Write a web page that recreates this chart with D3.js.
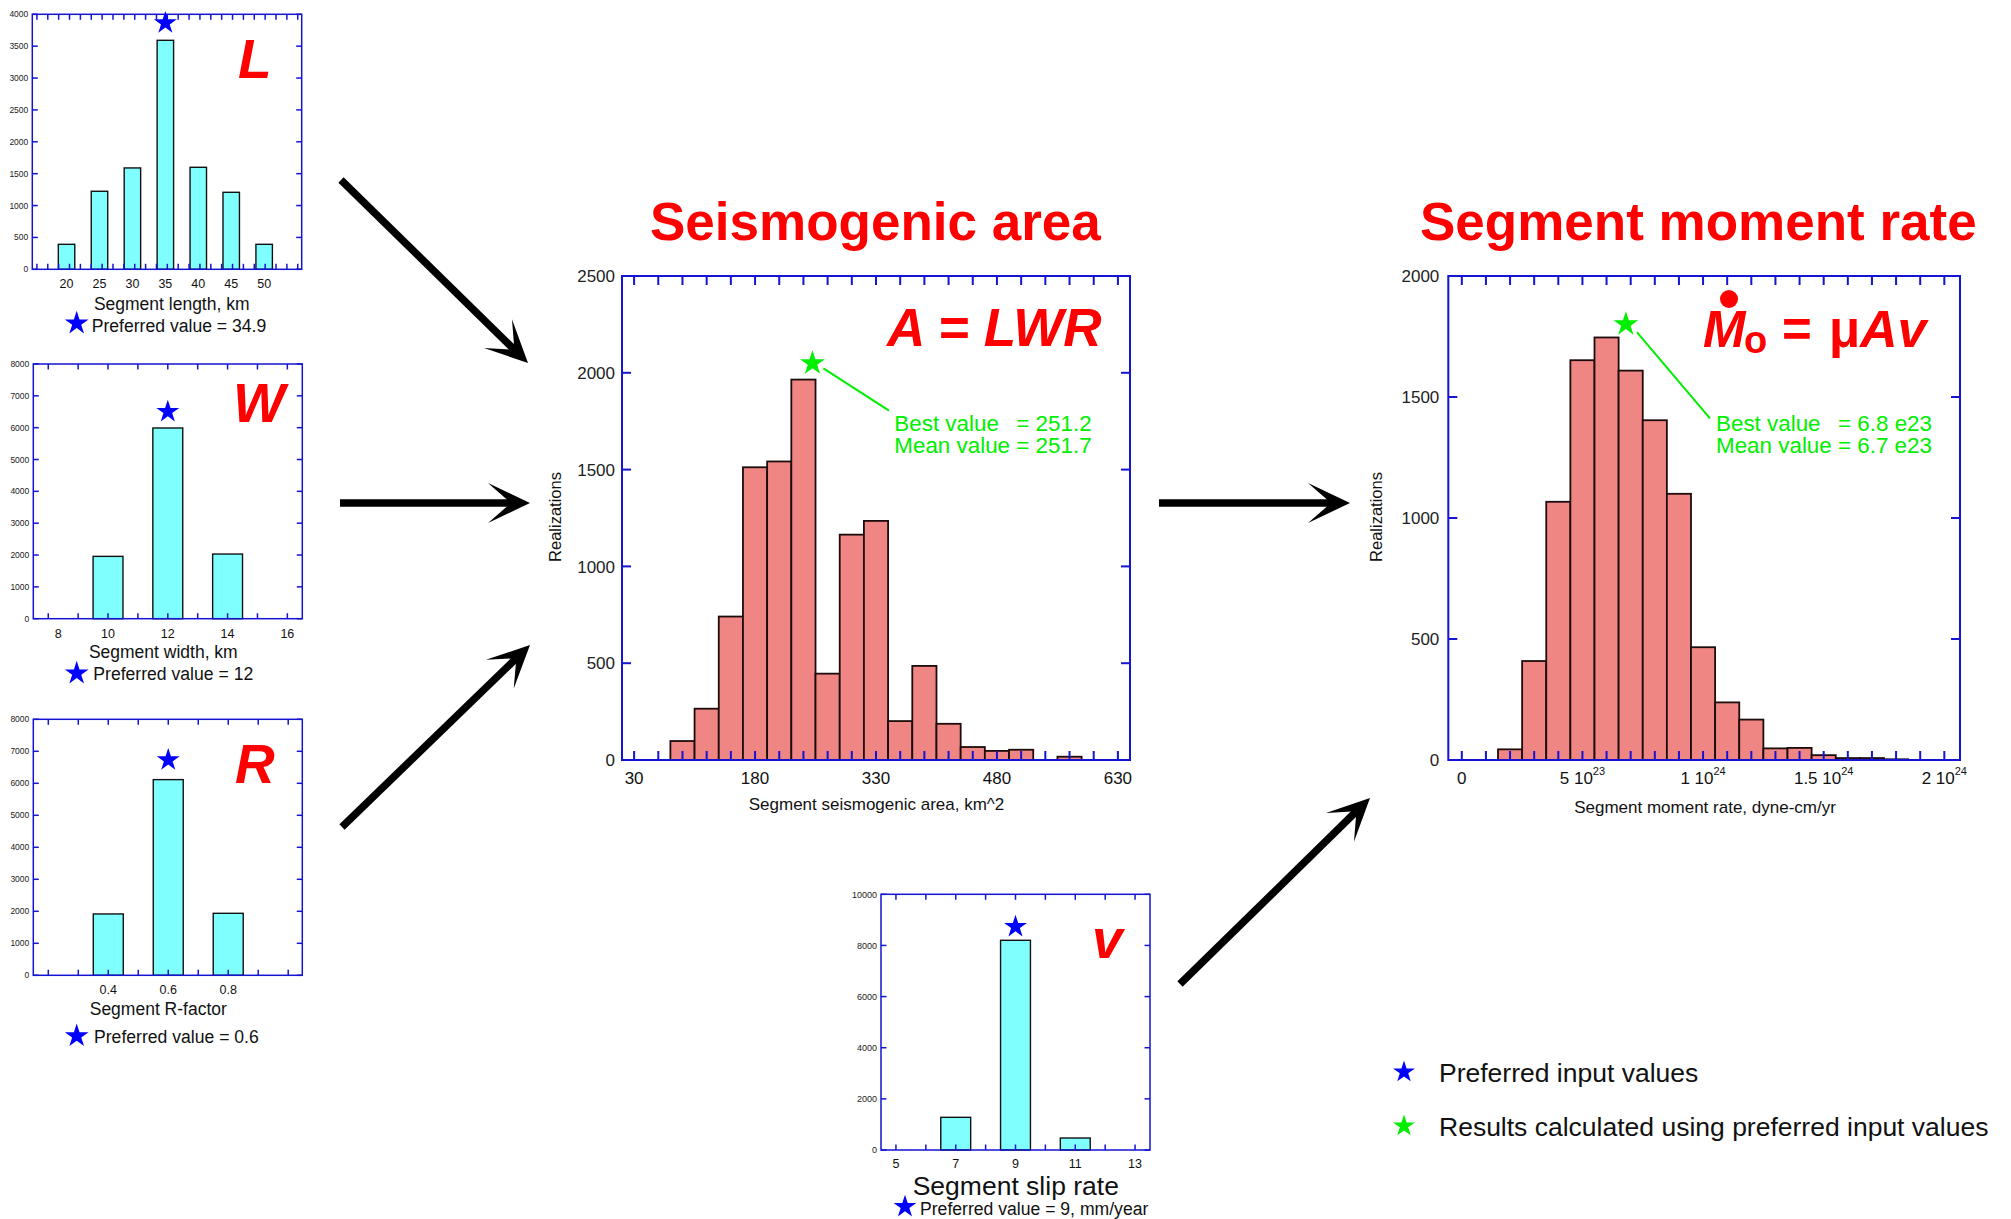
<!DOCTYPE html>
<html>
<head>
<meta charset="utf-8">
<script src="https://cdn.jsdelivr.net/npm/d3@7"></script>
<style>
  body { margin: 0; background: #fff; }
  svg { display: block; font-family: "Liberation Sans", Arial, Helvetica, sans-serif; }
</style>
</head>
<body>
<svg id="fig" width="2011" height="1219"></svg>
<script>
// ---- input distributions: realizations for each sampled value ----
const lengthValues = [20, 25, 30, 35, 40, 45, 50];
const lengthCounts = [392, 1224, 1590, 3592, 1600, 1208, 392];
const widthValues = [10, 12, 14];
const widthCounts = [1958, 5990, 2031];
const widthTickLabels = [8, 10, 12, 14, 16];
const rValues = [0.4, 0.6, 0.8];
const rCounts = [1917, 6115, 1937];
const slipValues = [7, 9, 11];
const slipCounts = [1278, 8201, 469];
const slipTickLabels = [5, 7, 9, 11, 13];

// preferred input values
const prefLength = 34.9;
const prefWidth = 12;
const prefR = 0.6;
const prefSlip = 9;

// ---- results: seismogenic area histogram (km^2) ----
const areaEdges = [75, 105, 135, 165, 195, 225, 255, 285, 315, 345, 375, 405, 435, 465, 495, 525, 555, 585];
const areaCounts = [98, 265, 741, 1512, 1542, 1965, 446, 1164, 1235, 201, 486, 187, 67, 47, 53, 0, 17];
const areaTickLabels = [30, 180, 330, 480, 630];
const areaBest = 251.2;
const areaMean = 251.7;

// ---- results: segment moment rate histogram (dyne-cm/yr) ----
const momentEdges = [1.5e23, 2.5e23, 3.5e23, 4.5e23, 5.5e23, 6.5e23, 7.5e23, 8.5e23, 9.5e23,
  10.5e23, 11.5e23, 12.5e23, 13.5e23, 14.5e23, 15.5e23, 16.5e23, 17.5e23, 18.5e23];
const momentCounts = [44, 409, 1067, 1652, 1746, 1609, 1404, 1100, 466, 238, 167, 48, 50, 20, 8, 8, 3];
const momentTickValues = [0, 5e23, 1e24, 1.5e24, 2e24];
const momentTickText = ['0', '5 10', '1 10', '1.5 10', '2 10'];
const momentTickExp = ['', '23', '24', '24', '24'];
const momentBest = 6.8e23;
const momentMean = 6.7e23;

const BLUE = '#1414d2';
const RED = '#ff0000';
const GREEN = '#00ee00';
const svg = d3.select('#fig');

svg.append('rect').attr('width', 2011).attr('height', 1219).attr('fill', '#fff');

function starPath(r) {
  const pts = [];
  for (let i = 0; i < 10; i++) {
    const a = -Math.PI / 2 + i * Math.PI / 5;
    const rr = i % 2 ? r * 0.382 : r;
    pts.push([rr * Math.cos(a), rr * Math.sin(a)]);
  }
  return 'M' + pts.map(p => p.join(',')).join('L') + 'Z';
}

function star(x, y, r, color) {
  svg.append('path')
    .attr('d', starPath(r))
    .attr('transform', `translate(${x},${y})`)
    .attr('fill', color);
}

function drawPanel(o) {
  const x = d3.scaleLinear().domain(o.xDomain).range([o.left, o.right]);
  const y = d3.scaleLinear().domain([0, o.yMax]).range([o.bottom, o.top]);
  const g = svg.append('g');

  // bars
  if (o.values) {
    g.selectAll('none')
      .data(o.values)
      .enter()
      .append('rect')
      .attr('x', d => x(d - o.barWidth / 2))
      .attr('width', d => x(d + o.barWidth / 2) - x(d - o.barWidth / 2))
      .attr('y', (d, i) => y(o.counts[i]))
      .attr('height', (d, i) => y(0) - y(o.counts[i]))
      .attr('fill', '#80ffff')
      .attr('stroke', '#111')
      .attr('stroke-width', 1.4);
  } else {
    const bins = o.counts.map((c, i) => ({ x0: o.edges[i], x1: o.edges[i + 1], c })).filter(b => b.c > 0);
    g.selectAll('none')
      .data(bins)
      .enter()
      .append('rect')
      .attr('x', d => x(d.x0))
      .attr('width', d => x(d.x1) - x(d.x0))
      .attr('y', d => y(d.c))
      .attr('height', d => y(0) - y(d.c))
      .attr('fill', '#f08684')
      .attr('stroke', '#1c0c0c')
      .attr('stroke-width', 1.8);
  }

  // ticks
  const yTicks = d3.range(0, o.yMax + o.yStep / 2, o.yStep);
  const tl = o.tickLen;
  const ticks = g.append('g').attr('stroke', BLUE).attr('stroke-width', o.frameW);
  yTicks.forEach(v => {
    ticks.append('line').attr('x1', o.left).attr('x2', o.left + tl).attr('y1', y(v)).attr('y2', y(v));
    ticks.append('line').attr('x1', o.right).attr('x2', o.right - tl).attr('y1', y(v)).attr('y2', y(v));
  });
  o.xTicks.forEach(v => {
    ticks.append('line').attr('x1', x(v)).attr('x2', x(v)).attr('y1', o.top).attr('y2', o.top + tl);
    ticks.append('line').attr('x1', x(v)).attr('x2', x(v)).attr('y1', o.bottom).attr('y2', o.bottom - tl);
  });

  // frame
  g.append('rect')
    .attr('x', o.left).attr('y', o.top)
    .attr('width', o.right - o.left).attr('height', o.bottom - o.top)
    .attr('fill', 'none').attr('stroke', BLUE).attr('stroke-width', o.frameW);

  // y labels
  g.selectAll('none')
    .data(yTicks)
    .enter()
    .append('text')
    .attr('x', o.left - o.yGap)
    .attr('y', d => y(d))
    .attr('dy', '0.36em')
    .attr('text-anchor', 'end')
    .attr('font-size', o.yFont)
    .attr('fill', '#222')
    .text(d => d);

  // x labels
  o.xLabels.forEach((v, i) => {
    const t = g.append('text')
      .attr('x', x(v) + (o.xLabelShift ? o.xLabelShift[i] : 0))
      .attr('y', o.xLabelY)
      .attr('text-anchor', 'middle')
      .attr('font-size', o.xFont)
      .attr('fill', '#111');
    if (o.xLabelText) {
      t.append('tspan').text(o.xLabelText[i]);
      if (o.xLabelExp[i]) {
        t.append('tspan').attr('dy', -9).attr('font-size', 11).text(o.xLabelExp[i]);
      }
    } else {
      t.text(v);
    }
  });

  return { x, y };
}

function label(x, y, txt, size, opts = {}) {
  return svg.append('text')
    .attr('x', x).attr('y', y)
    .attr('font-size', size)
    .attr('text-anchor', opts.anchor || 'start')
    .attr('font-weight', opts.bold ? 'bold' : null)
    .attr('font-style', opts.italic ? 'italic' : null)
    .attr('fill', opts.color || '#111')
    .text(txt);
}

// two green lines, with the "=" of the best value lined up under the mean value one
function resultText(x, y, best, mean, size) {
  const meanLine = label(x, y + 22, `Mean value = ${mean}`, size, { color: GREEN });
  const probe = label(x, y + 22, 'Mean value', size, { color: GREEN });
  const eqX = x + probe.node().getComputedTextLength() + size * 0.278;
  probe.remove();
  label(x, y, 'Best value', size, { color: GREEN });
  label(eqX, y, `= ${best}`, size, { color: GREEN });
  return meanLine;
}

const e23 = v => `${(v / 1e23).toFixed(1)} e23`;

// ---- L panel ----
const pL = drawPanel({
  left: 32.3, right: 301.7, top: 14.3, bottom: 269.3,
  xDomain: [14.8, 55.7], yMax: 4000, yStep: 500,
  xTicks: d3.range(15.5, 55.6, 1.65), xLabels: lengthValues,
  values: lengthValues, counts: lengthCounts, barWidth: 2.5,
  tickLen: 5.5, frameW: 1.5, yFont: 8.5, yGap: 4, xFont: 12.5, xLabelY: 288
});
star(pL.x(35), pL.y(3864), 12, '#0000ff');
label(238, 78, 'L', 55, { bold: true, italic: true, color: RED });
label(171.7, 310, 'Segment length, km', 17.5, { anchor: 'middle' });
star(76.7, 323.3, 12.5, '#0000ff');
label(91.7, 331.7, `Preferred value = ${prefLength}`, 17.6);

// ---- W panel ----
const pW = drawPanel({
  left: 33.3, right: 302.3, top: 364, bottom: 618.7,
  xDomain: [7.5, 16.5], yMax: 8000, yStep: 1000,
  xTicks: d3.range(8, 16.01, 1), xLabels: widthTickLabels, xLabelShift: [10, 0, 0, 0, 0],
  values: widthValues, counts: widthCounts, barWidth: 1,
  tickLen: 5.5, frameW: 1.5, yFont: 8.5, yGap: 4, xFont: 12.5, xLabelY: 638.3
});
star(pW.x(prefWidth), pW.y(6502), 12, '#0000ff');
label(233, 421.7, 'W', 55, { bold: true, italic: true, color: RED });
label(163.3, 658.3, 'Segment width, km', 17.5, { anchor: 'middle' });
star(76.7, 673.3, 12.5, '#0000ff');
label(93.3, 680, `Preferred value = ${prefWidth}`, 17.6);

// ---- R panel ----
const pR = drawPanel({
  left: 33.3, right: 302.3, top: 719.3, bottom: 975.3,
  xDomain: [0.15, 1.047], yMax: 8000, yStep: 1000,
  xTicks: d3.range(0.2, 1.001, 0.1), xLabels: rValues,
  values: rValues, counts: rCounts, barWidth: 0.1,
  tickLen: 5.5, frameW: 1.5, yFont: 8.5, yGap: 4, xFont: 12.5, xLabelY: 994
});
star(pR.x(prefR), pR.y(6728), 12, '#0000ff');
label(235, 783, 'R', 55, { bold: true, italic: true, color: RED });
label(158.3, 1015, 'Segment R-factor', 17.5, { anchor: 'middle' });
star(76.7, 1036, 12.5, '#0000ff');
label(94, 1043.3, `Preferred value = ${prefR}`, 17.6);

// ---- v panel ----
const pV = drawPanel({
  left: 881, right: 1150, top: 894.3, bottom: 1150,
  xDomain: [4.5, 13.5], yMax: 10000, yStep: 2000,
  xTicks: d3.range(5, 13.01, 1), xLabels: slipTickLabels,
  values: slipValues, counts: slipCounts, barWidth: 1,
  tickLen: 5.5, frameW: 1.5, yFont: 9, yGap: 4, xFont: 12.5, xLabelY: 1168.3
});
star(pV.x(prefSlip), pV.y(8733), 12, '#0000ff');
label(1092, 958, 'v', 55, { bold: true, italic: true, color: RED });
label(1015.8, 1195, 'Segment slip rate', 26.5, { anchor: 'middle' });
star(905, 1206.7, 12, '#0000ff');
label(920, 1215, `Preferred value = ${prefSlip}, mm/year`, 17.6);

// ---- seismogenic area ----
const pA = drawPanel({
  left: 622, right: 1130, top: 276, bottom: 760,
  xDomain: [15, 645], yMax: 2500, yStep: 500,
  xTicks: d3.range(30, 631, 30), xLabels: areaTickLabels,
  edges: areaEdges, counts: areaCounts,
  tickLen: 9, frameW: 2, yFont: 17, yGap: 7, xFont: 17, xLabelY: 784
});
label(650, 240, 'Seismogenic area', 53, { bold: true, color: RED });
label(887, 346, 'A = LWR', 53, { bold: true, italic: true, color: RED });
label(0, 0, 'Realizations', 16.5, { anchor: 'middle' })
  .attr('transform', 'translate(561,517) rotate(-90)');
label(876.5, 810, 'Segment seismogenic area, km^2', 17, { anchor: 'middle' });
svg.append('line')
  .attr('x1', pA.x(areaBest) + 11).attr('y1', pA.y(2049) + 5)
  .attr('x2', 889).attr('y2', 410.7)
  .attr('stroke', GREEN).attr('stroke-width', 2);
star(pA.x(areaBest), pA.y(2049), 13, GREEN);
resultText(894.3, 431, areaBest, areaMean, 22.4);

// ---- segment moment rate ----
const pM = drawPanel({
  left: 1448.3, right: 1960, top: 276, bottom: 760,
  xDomain: [-0.056e24, 2.065e24], yMax: 2000, yStep: 500,
  xTicks: d3.range(0, 20.01, 1).map(k => k * 1e23), xLabels: momentTickValues,
  xLabelText: momentTickText, xLabelExp: momentTickExp,
  edges: momentEdges, counts: momentCounts,
  tickLen: 9, frameW: 2, yFont: 17, yGap: 9, xFont: 17, xLabelY: 784
});
label(1420, 240, 'Segment moment rate', 53, { bold: true, color: RED });
label(0, 0, 'Realizations', 16.5, { anchor: 'middle' })
  .attr('transform', 'translate(1382,517) rotate(-90)');
label(1705, 812.7, 'Segment moment rate, dyne-cm/yr', 17, { anchor: 'middle' });
svg.append('line')
  .attr('x1', pM.x(momentBest) + 11).attr('y1', pM.y(1801) + 8)
  .attr('x2', 1710).attr('y2', 418.3)
  .attr('stroke', GREEN).attr('stroke-width', 2);
star(pM.x(momentBest), pM.y(1801), 13, GREEN);
resultText(1716, 431, e23(momentBest), e23(momentMean), 22.4);

// formula: M-dot_o = mu A v
label(1703, 347, 'M', 51, { bold: true, italic: true, color: RED });
label(1744, 353, 'o', 38, { bold: true, color: RED });
label(1782, 347, '=', 51, { bold: true, color: RED });
label(1829, 347, 'μ', 51, { bold: true, color: RED });
label(1860, 347, 'Av', 52, { bold: true, italic: true, color: RED });
svg.append('circle').attr('cx', 1729).attr('cy', 299).attr('r', 9).attr('fill', RED);

// ---- arrows ----
function arrow(x1, y1, x2, y2) {
  const a = Math.atan2(y2 - y1, x2 - x1);
  const L = 42, W = 20, N = 19;
  const nx = x2 - N * Math.cos(a), ny = y2 - N * Math.sin(a);
  svg.append('line')
    .attr('x1', x1).attr('y1', y1).attr('x2', nx).attr('y2', ny)
    .attr('stroke', '#000').attr('stroke-width', 7.5);
  const head = [[0, 0], [-L, -W], [-N, 0], [-L, W]];
  svg.append('path')
    .attr('d', 'M' + head.map(p => p.join(',')).join('L') + 'Z')
    .attr('transform', `translate(${x2},${y2}) rotate(${a * 180 / Math.PI})`)
    .attr('fill', '#000');
}
arrow(341, 180, 528, 363);
arrow(340, 503, 530, 503);
arrow(342, 827, 530, 645);
arrow(1159, 503, 1350, 503);
arrow(1180, 984, 1370, 798);

// ---- legend ----
star(1404, 1072, 11.5, '#0000ff');
label(1439, 1081.5, 'Preferred input values', 26.5);
star(1404, 1126, 11.5, GREEN);
label(1439, 1135.5, 'Results calculated using preferred input values', 26.5);
</script>
</body>
</html>
